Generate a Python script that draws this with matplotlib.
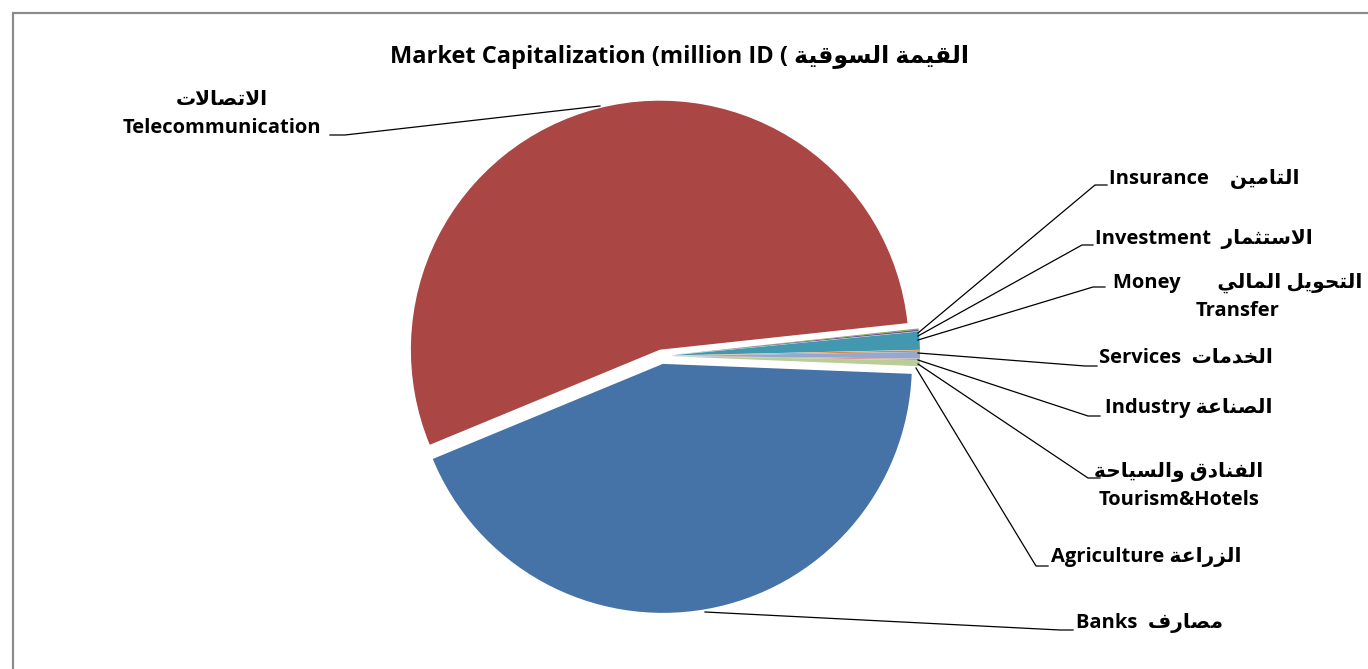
import matplotlib
matplotlib.use('Agg')
import matplotlib.pyplot as plt
from matplotlib.patches import Rectangle

# market capitalization by sector (share of total)
sectors_en = ['Banks', 'Telecommunication', 'Insurance', 'Investment', 'Money Transfer',
              'Services', 'Industry', 'Tourism&Hotels', 'Agriculture']
sectors_ar = ['مصارف', 'الاتصالات', 'التامين', 'الاستثمار', 'التحويل المالي',
              'الخدمات', 'الصناعة', 'الفنادق والسياحة', 'الزراعة']
market_cap = [43.1, 54.5, 0.07, 0.10, 1.17, 0.10, 0.43, 0.08, 0.39]

colors = ['#4572A7', '#AA4643', '#89A54E', '#71588F', '#4198AF',
          '#DB843D', '#93A9CF', '#D19392', '#B9CD96']
# offsets in pixels (pie is drawn in pixel coords)
explode = [8, 6.5, 9.5, 9.5, 9.5, 9.5, 9.5, 9.5, 9.5]

# arabic letter forms: isolated, final, initial, medial
FORMS = {
    'ا': (0xFE8D, 0xFE8E, None, None),
    'ت': (0xFE95, 0xFE96, 0xFE97, 0xFE98),
    'ث': (0xFE99, 0xFE9A, 0xFE9B, 0xFE9C),
    'ح': (0xFEA1, 0xFEA2, 0xFEA3, 0xFEA4),
    'خ': (0xFEA5, 0xFEA6, 0xFEA7, 0xFEA8),
    'د': (0xFEA9, 0xFEAA, None, None),
    'ر': (0xFEAD, 0xFEAE, None, None),
    'ز': (0xFEAF, 0xFEB0, None, None),
    'س': (0xFEB1, 0xFEB2, 0xFEB3, 0xFEB4),
    'ص': (0xFEB9, 0xFEBA, 0xFEBB, 0xFEBC),
    'ع': (0xFEC9, 0xFECA, 0xFECB, 0xFECC),
    'ف': (0xFED1, 0xFED2, 0xFED3, 0xFED4),
    'ق': (0xFED5, 0xFED6, 0xFED7, 0xFED8),
    'ل': (0xFEDD, 0xFEDE, 0xFEDF, 0xFEE0),
    'م': (0xFEE1, 0xFEE2, 0xFEE3, 0xFEE4),
    'ن': (0xFEE5, 0xFEE6, 0xFEE7, 0xFEE8),
    'ة': (0xFE93, 0xFE94, None, None),
    'و': (0xFEED, 0xFEEE, None, None),
    'ي': (0xFEF1, 0xFEF2, 0xFEF3, 0xFEF4),
}


def ar(text):
    """shape arabic letters and put them in visual (left to right) order"""
    out = []
    i = 0
    n = len(text)
    while i < n:
        c = text[i]
        if c not in FORMS:
            out.append(c)
            i += 1
            continue
        prev = text[i - 1] if i > 0 else ''
        joins_prev = prev in FORMS and FORMS[prev][2] is not None
        if c == 'ل' and i + 1 < n and text[i + 1] == 'ا':
            out.append(chr(0xFEFC if joins_prev else 0xFEFB))
            i += 2
            continue
        nxt = text[i + 1] if i + 1 < n else ''
        iso, fin, ini, med = FORMS[c]
        joins_next = ini is not None and nxt in FORMS
        if joins_prev and joins_next:
            g = med
        elif joins_prev:
            g = fin
        elif joins_next:
            g = ini
        else:
            g = iso
        out.append(chr(g))
        i += 1
    return ''.join(reversed(out))


W, H = 1368, 669
fam = ['Open Sans', 'DejaVu Sans']

fig = plt.figure(figsize=(W / 100, H / 100), dpi=100)
ax = fig.add_axes([0, 0, 1, 1])

ax.pie(market_cap, colors=colors, explode=explode, startangle=357.7,
       counterclock=False, radius=249, center=(661.5, H - 356),
       wedgeprops=dict(linewidth=0))

ax.set_xlim(0, W)
ax.set_ylim(0, H)
ax.set_aspect('equal')
ax.axis('off')

# chart area border
ax.add_patch(Rectangle((13, -20), W, H - 13 + 20, fill=False,
                       edgecolor='#8c8c8c', linewidth=1.6, clip_on=False))

ax.text(680, H - 57, 'Market Capitalization (million ID ( ' + ar('القيمة السوقية'),
        ha='center', va='center', fontsize=17, fontweight='bold', family=fam)

# label text, centre of text block, leader line points (image pixels)
labels = [
    (sectors_en[0] + '  ' + ar(sectors_ar[0]), (1149, 623),
     [(705, 612), (1060, 630), (1073, 630)]),
    (ar(sectors_ar[1]) + '\n' + sectors_en[1], (222, 114),
     [(600, 106), (345, 135), (330, 135)]),
    (sectors_en[2] + '    ' + ar(sectors_ar[2]), (1204, 179),
     [(918, 333), (1095, 185), (1107, 185)]),
    (sectors_en[3] + '  ' + ar(sectors_ar[3]), (1204, 239),
     [(918, 336), (1082, 245), (1093, 245)]),
    ('Money       ' + ar(sectors_ar[4]) + '\nTransfer', (1238, 297),
     [(918, 340), (1093, 287), (1105, 287)]),
    (sectors_en[5] + '  ' + ar(sectors_ar[5]), (1186, 357),
     [(918, 353), (1085, 366), (1097, 366)]),
    (sectors_en[6] + ' ' + ar(sectors_ar[6]), (1189, 408),
     [(918, 360), (1088, 416), (1100, 416)]),
    (ar(sectors_ar[7]) + '\n' + sectors_en[7], (1179, 486),
     [(918, 364), (1088, 478), (1100, 478)]),
    (sectors_en[8] + ' ' + ar(sectors_ar[8]), (1146, 557),
     [(916, 368), (1036, 566), (1048, 566)]),
]

for txt, (tx, ty), pts in labels:
    ax.plot([p[0] for p in pts], [H - p[1] for p in pts], color='black', linewidth=0.9)
    ax.text(tx, H - ty, txt, ha='center', va='center', fontsize=14.5,
            fontweight='bold', family=fam, linespacing=1.55, multialignment='center')

fig.savefig('out.png', dpi=100)
